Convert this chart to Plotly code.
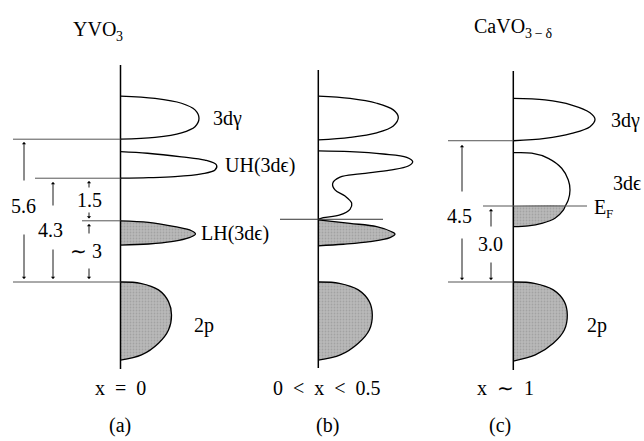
import plotly.graph_objects as go

# ---------------- data (energies in eV, DOS in arbitrary units) ----------------
panel_titles = [("YVO", "3"), None, ("CaVO", "3\u2009\u2212\u2009\u03b4")]
doping_labels = ["x\u2002=\u20020", "0\u2002<\u2002x\u2002<\u20020.5", "x\u2002\u223c\u20021"]
panel_tags = ["(a)", "(b)", "(c)"]

# panel (a) YVO3
a_3dg_E = [7.29, 7.20, 7.01, 6.75, 6.42, 6.09, 5.85, 5.67, 5.60]
a_3dg_D = [0, 34.5, 61, 74.5, 78.5, 74.5, 61, 34.5, 0]
a_uh_E = [5.11, 5.05, 4.91, 4.78, 4.59, 4.39, 4.24, 4.13, 4.09, 4.07]
a_uh_D = [0, 27, 61, 84.5, 96, 94.5, 81, 54.5, 28, 0]
a_lh_E = [2.40, 2.34, 2.17, 2.01, 1.88, 1.75, 1.58, 1.49, 1.45]
a_lh_D = [0, 28, 54.5, 71, 75, 69.5, 51, 28, 0]
a_2p_E = [0.0, -0.05, -0.31, -0.77, -1.29, -1.88, -2.40, -2.86, -3.06]
a_2p_D = [0, 20, 38, 48, 51, 48, 38, 21, 0]
a_gap_values = ["5.6", "4.3", "1.5", "\u223c 3"]

# panel (b) 0 < x < 0.5
b_3dg_E = [7.29, 7.20, 7.01, 6.75, 6.46, 6.12, 5.85, 5.67, 5.57]
b_3dg_D = [0, 31.7, 58.4, 75, 80, 75, 58.4, 31.7, 0]
b_uh_E = [5.14, 5.11, 5.02, 4.89, 4.72, 4.55, 4.39, 4.24, 4.11, 3.87, 3.61, 3.37, 3.09, 2.85, 2.63, 2.52, 2.46]
b_uh_D = [0, 31.7, 65, 88.4, 94.4, 90, 71.7, 41.7, 21.7, 14.4, 16.7, 26.7, 33.4, 31.7, 21.7, 5, 0]
b_lh_E = [2.44, 2.30, 2.17, 1.97, 1.88, 1.74, 1.58, 1.48, 1.42]
b_lh_D = [0, 31.7, 58.4, 73.4, 76.7, 71.7, 51.7, 25, 0]
b_2p_E = [0.0, -0.05, -0.31, -0.77, -1.29, -1.88, -2.40, -2.86, -3.06]
b_2p_D = [0, 21, 40, 51, 54, 51, 40, 22, 0]
b_EF = 2.46

# panel (c) CaVO3-d
c_3dg_E = [7.20, 7.14, 6.94, 6.64, 6.38, 6.09, 5.83, 5.63, 5.54]
c_3dg_D = [0, 31.7, 58.4, 76.7, 81.7, 76.7, 58.4, 31.7, 0]
c_3de_E = [5.07, 5.05, 4.85, 4.46, 4.00, 3.61, 3.22, 2.98, 2.82, 2.50, 2.30, 2.20, 2.17]
c_3de_D = [0, 18.4, 35, 48.4, 55, 56.7, 55, 52, 50, 41.7, 28.4, 15, 0]
c_2p_E = [0.0, -0.05, -0.31, -0.77, -1.29, -1.88, -2.40, -2.86, -3.10]
c_2p_D = [0, 21, 40, 51, 54, 51, 40, 22, 0]
c_EF = 2.98
c_gap_values = ["4.5", "3.0"]

# ---------------- layout constants ----------------
W, H = 644, 441
PX_PER_EV = 25.5
E_ZERO_PX = 282
y_range = [(E_ZERO_PX - H) / PX_PER_EV, E_ZERO_PX / PX_PER_EV]
axis_x = [120.5, 318.3, 513.3]
axis_span = [(8.51, -3.41), (8.31, -3.37), (8.27, -3.45)]

FONT = "Liberation Serif"
FS = 20
SUB_FS = 14
LINE = dict(color="black", width=1.3)
FILL = "#b9b9b9"
PATTERN = dict(shape=".", bgcolor=FILL, fgcolor="#8c8c8c", size=3, solidity=0.3)

fig = go.Figure()


def band(x0, E, D, filled=False):
    xs = [x0 + d for d in D]
    if filled:
        fig.add_trace(go.Scatter(x=xs, y=E, mode="lines", line=dict(width=0, shape="spline"),
                                 fill="toself", fillcolor=FILL, fillpattern=PATTERN,
                                 hoverinfo="skip", showlegend=False))
    fig.add_trace(go.Scatter(x=xs, y=E, mode="lines", line=dict(LINE, shape="spline"),
                             hoverinfo="skip", showlegend=False))


def partial_fill(x0, E, D, ef):
    xs = [x0] + [x0 + d for e, d in zip(E, D) if e <= ef]
    ys = [ef] + [e for e in E if e <= ef]
    fig.add_trace(go.Scatter(x=xs, y=ys, mode="lines", line=dict(width=0, shape="spline", smoothing=0.6),
                             fill="toself", fillcolor=FILL, fillpattern=PATTERN,
                             hoverinfo="skip", showlegend=False))


xa, xb, xc = axis_x
band(xa, a_3dg_E, a_3dg_D)
band(xa, a_uh_E, a_uh_D)
band(xa, a_lh_E, a_lh_D, filled=True)
band(xa, a_2p_E, a_2p_D, filled=True)

band(xb, b_3dg_E, b_3dg_D)
band(xb, b_uh_E, b_uh_D)
band(xb, b_lh_E, b_lh_D, filled=True)
band(xb, b_2p_E, b_2p_D, filled=True)

partial_fill(xc, c_3de_E, c_3de_D, c_EF)
band(xc, c_3dg_E, c_3dg_D)
band(xc, c_3de_E, c_3de_D)
band(xc, c_2p_E, c_2p_D, filled=True)

shapes = []
for x0, (top, bot) in zip(axis_x, axis_span):
    shapes.append(dict(type="line", xref="x", yref="y", x0=x0, x1=x0, y0=bot, y1=top,
                       line=dict(color="black", width=1.5)))


def hline(y, x0, x1, color="#555555", width=1):
    shapes.append(dict(type="line", xref="x", yref="y", x0=x0, x1=x1, y0=y, y1=y,
                       line=dict(color=color, width=width)))


hline(a_3dg_E[-1], 13, xa)
hline(a_uh_E[-1], 35, xa)
hline(a_lh_E[0], 82, xa)
hline(a_2p_E[0], 13, xa)
hline(b_EF, 280, 383, color="#333333")
hline(c_3dg_E[-1], 448, xc)
hline(c_EF, 483, 587)
hline(c_2p_E[0], 448, xc)

ann = []


def text(x, y, s, anchor="center", size=FS, yshift=0, xshift=0):
    ann.append(dict(x=x, y=y, xref="x", yref="y", text=s, showarrow=False, xanchor=anchor,
                    yanchor="middle", yshift=yshift, xshift=xshift, borderpad=0,
                    font=dict(family=FONT, size=size, color="black")))


def text_sub(x_split, y, main, sub, sub_size=SUB_FS, drop=7):
    # main text ends at x_split, subscript starts there, lowered
    text(x_split, y, main, "right", xshift=1)
    text(x_split, y, sub, "left", size=sub_size, yshift=-drop, xshift=-1)


def arrow(x, y_tail, y_head):
    ann.append(dict(x=x, y=y_head, ax=x, ay=y_tail, xref="x", yref="y", axref="x", ayref="y",
                    text="", showarrow=True, arrowhead=1, arrowsize=0.8, arrowwidth=0.9,
                    arrowcolor="black"))


def E(px):
    return (E_ZERO_PX - px) / PX_PER_EV


# gap annotations panel (a)
text(23, E(206), a_gap_values[0])
arrow(24, E(182), E(142))
arrow(24, E(233), E(279))
text(50, E(230), a_gap_values[1])
arrow(53, E(207), E(182))
arrow(53, E(248), E(279))
text(89, E(200), a_gap_values[2])
arrow(89, E(189), E(181))
arrow(89, E(211), E(218.5))
text(86, E(251), a_gap_values[3])
arrow(89, E(235), E(224))
arrow(89, E(267), E(279))

# gap annotations panel (c)
text(459, E(216), c_gap_values[0])
arrow(462, E(193), E(145))
arrow(462, E(237), E(280))
text(490, E(244), c_gap_values[1])
arrow(491, E(228), E(209))
arrow(491, E(261), E(280))

# band labels
text(212, E(118), "3d\u03b3", "left")
text(224, E(165), "UH(3d\u03f5)", "left")
text(200, E(233), "LH(3d\u03f5)", "left")
text(193, E(325), "2p", "left")
text(610, E(120), "3d\u03b3", "left")
text(612, E(183), "3d\u03f5", "left")
text_sub(605.5, E(207), "E", "F", sub_size=13, drop=6)
text(586, E(325), "2p", "left")

# titles and panel labels
text_sub(115.5, E(29), panel_titles[0][0], panel_titles[0][1])
text_sub(524.5, E(26), panel_titles[2][0], panel_titles[2][1])
for x, s in zip([120, 327, 505], doping_labels):
    text(x, E(388), s)
for x, s in zip([120, 327, 500], panel_tags):
    text(x, E(425), s)

fig.update_layout(
    width=W, height=H, margin=dict(l=0, r=0, t=0, b=0),
    paper_bgcolor="white", plot_bgcolor="white",
    xaxis=dict(range=[0, W], visible=False, fixedrange=True),
    yaxis=dict(range=y_range, visible=False, fixedrange=True),
    shapes=shapes, annotations=ann, showlegend=False,
)

fig.write_html("out.html")
